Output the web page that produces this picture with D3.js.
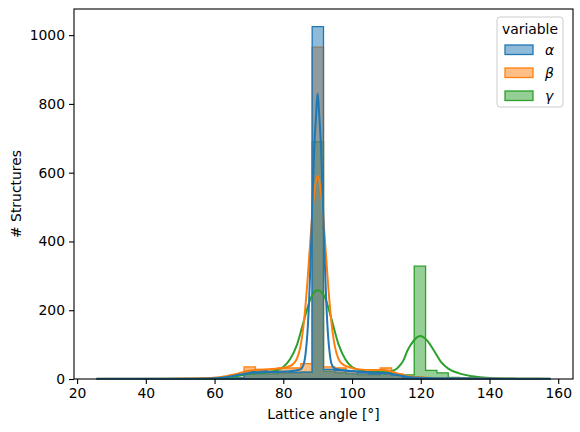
<!DOCTYPE html>
<html>
<head>
<meta charset="utf-8">
<script src="https://cdn.jsdelivr.net/npm/d3@7"></script>
<style>
  body { margin: 0; background: #fff; }
  svg { font-family: "DejaVu Sans", sans-serif; }
</style>
</head>
<body>
<svg id="chart" width="580" height="432"></svg>
<script>
// bins shared by all three series
var binStart = 25.7, binWidth = 3.3, binCount = 40;

// histogram counts per bin
var countsAlpha = [1,1,1,1,1,1,1,1,1,1,1,2,3,22,24,22,22,20,20,1025,28,25,22,18,15,20,12,5,3,2,2,1,1,1,1,1,1,1,1,1];
var countsBeta  = [0,0,0,0,0,0,1,1,1,2,2,3,5,35,28,27,32,32,45,965,35,32,22,20,18,32,15,5,5,3,2,1,1,1,1,0,0,0,0,0];
var countsGamma = [0,0,0,0,0,0,0,0,0,1,1,2,2,14,15,15,17,18,20,690,22,18,15,12,12,14,12,12,328,25,18,5,4,3,2,1,1,0,0,0];

// kde curves [angle, count]
var kdeAlpha = [[25.7,0.5],[40,0.5],[55,1],[62,4],[66,10],[70,17],[75,20],[80,21],[83,24],[85,28],[86,45],[86.5,75],[87,130],[87.5,225],[88,360],[88.5,520],[89,670],[89.5,760],[90,830],[90.5,760],[91,670],[91.5,520],[92,360],[92.5,225],[93,130],[93.5,75],[94,45],[95,30],[97,26],[100,23],[104,20],[108,18],[111,16],[114,10],[117,5],[122,3],[130,2],[145,1],[157.7,0.5]];
var kdeBeta = [[25.7,0.5],[45,1],[55,2],[62,6],[66,14],[70,24],[75,28],[80,32],[82,38],[83,45],[84,60],[85,95],[86,165],[87,280],[88,420],[89,540],[90,590],[91,540],[92,420],[93,280],[94,165],[95,95],[96,60],[97,45],[99,35],[102,28],[106,26],[109,26],[111,23],[114,14],[117,7],[122,4],[130,2],[145,1],[157.7,0.5]];
var kdeGamma = [[25.7,0.3],[50,0.5],[58,1],[62,3],[66,8],[70,15],[74,18],[78,25],[80,35],[82,58],[84,100],[86,170],[88,235],[90,258],[92,240],[94,175],[96,103],[98,58],[100,35],[103,24],[106,20],[109,20],[111,22],[113,30],[114,40],[115,55],[116,80],[117,98],[118,112],[119,122],[120,125],[121,120],[122,110],[124,80],[126,48],[128,30],[131,17],[135,8],[140,3],[148,1],[157.7,0.3]];

var seriesNames = ["\u03b1", "\u03b2", "\u03b3"];
var seriesColors = ["#1f77b4", "#ff7f0e", "#2ca02c"];
var xTicks = [20, 40, 60, 80, 100, 120, 140, 160];
var yTicks = [0, 200, 400, 600, 800, 1000];

var svg = d3.select("#chart");
var margin = {left: 74, right: 7, top: 9, bottom: 53};
var W = 580, H = 432;

var x = d3.scaleLinear().domain([19.1, 164.3]).range([margin.left, W - margin.right]);
var y = d3.scaleLinear().domain([0, 1076]).range([H - margin.bottom, margin.top]);

var edges = d3.range(binCount + 1).map(function(i){ return binStart + i * binWidth; });

function stepData(counts){
  var pts = counts.map(function(c, i){ return {x: edges[i], y: c}; });
  pts.push({x: edges[binCount], y: counts[binCount - 1]});
  return pts;
}

var area = d3.area()
  .curve(d3.curveStepAfter)
  .x(function(d){ return x(d.x); })
  .y0(y(0))
  .y1(function(d){ return y(d.y); });

var kdeLine = d3.line()
  .curve(d3.curveMonotoneX)
  .x(function(d){ return x(d[0]); })
  .y(function(d){ return y(d[1]); });

var counts = [countsAlpha, countsBeta, countsGamma];
var kdes = [kdeAlpha, kdeBeta, kdeGamma];

// first hue drawn last, like seaborn
var plotG = svg.append("g");
[2, 1, 0].forEach(function(i){
  plotG.append("path")
    .attr("d", area(stepData(counts[i])))
    .attr("fill", seriesColors[i])
    .attr("fill-opacity", 0.5)
    .attr("stroke", seriesColors[i])
    .attr("stroke-width", 1.3);
});
[2, 1, 0].forEach(function(i){
  plotG.append("path")
    .attr("d", kdeLine(kdes[i]))
    .attr("fill", "none")
    .attr("stroke", seriesColors[i])
    .attr("stroke-width", 2);
});

// axes
var xAxis = svg.append("g")
  .attr("transform", "translate(0," + (H - margin.bottom) + ")")
  .call(d3.axisBottom(x).tickValues(xTicks).tickFormat(d3.format("d")).tickSize(5).tickPadding(4).tickSizeOuter(0));
var yAxis = svg.append("g")
  .attr("transform", "translate(" + margin.left + ",0)")
  .call(d3.axisLeft(y).tickValues(yTicks).tickFormat(d3.format("d")).tickSize(5).tickPadding(4).tickSizeOuter(0));
[xAxis, yAxis].forEach(function(a){
  a.selectAll("text").attr("font-size", "13.9px").attr("fill", "#000").attr("font-family", "DejaVu Sans");
  a.selectAll("line").attr("stroke", "#000").attr("stroke-width", 1.1);
  a.select(".domain").remove();
});

// frame
svg.append("rect")
  .attr("x", margin.left).attr("y", margin.top)
  .attr("width", W - margin.left - margin.right)
  .attr("height", H - margin.top - margin.bottom)
  .attr("fill", "none").attr("stroke", "#000").attr("stroke-width", 1.1);

svg.append("text")
  .attr("x", (margin.left + W - margin.right) / 2).attr("y", 419)
  .attr("text-anchor", "middle").attr("font-size", "13.9px")
  .text("Lattice angle [\u00b0]");
svg.append("text")
  .attr("transform", "translate(21," + ((margin.top + H - margin.bottom) / 2) + ") rotate(-90)")
  .attr("text-anchor", "middle").attr("font-size", "13.9px")
  .text("# Structures");

// legend
var lg = svg.append("g").attr("transform", "translate(497,17)");
lg.append("rect")
  .attr("width", 66).attr("height", 90).attr("rx", 3)
  .attr("fill", "#fff").attr("fill-opacity", 0.8)
  .attr("stroke", "#ccc").attr("stroke-width", 1);
lg.append("text").attr("x", 33).attr("y", 17).attr("text-anchor", "middle")
  .attr("font-size", "13.9px").text("variable");
seriesNames.forEach(function(name, i){
  var row = lg.append("g").attr("transform", "translate(0," + (28 + i * 23) + ")");
  row.append("rect").attr("x", 8).attr("y", 0).attr("width", 28).attr("height", 9.5)
    .attr("fill", seriesColors[i]).attr("fill-opacity", 0.5)
    .attr("stroke", seriesColors[i]).attr("stroke-width", 1.3);
  row.append("text").attr("x", 48).attr("y", 9.5)
    .attr("font-size", "13.9px").attr("font-style", "italic").text(name);
});
</script>
</body>
</html>
